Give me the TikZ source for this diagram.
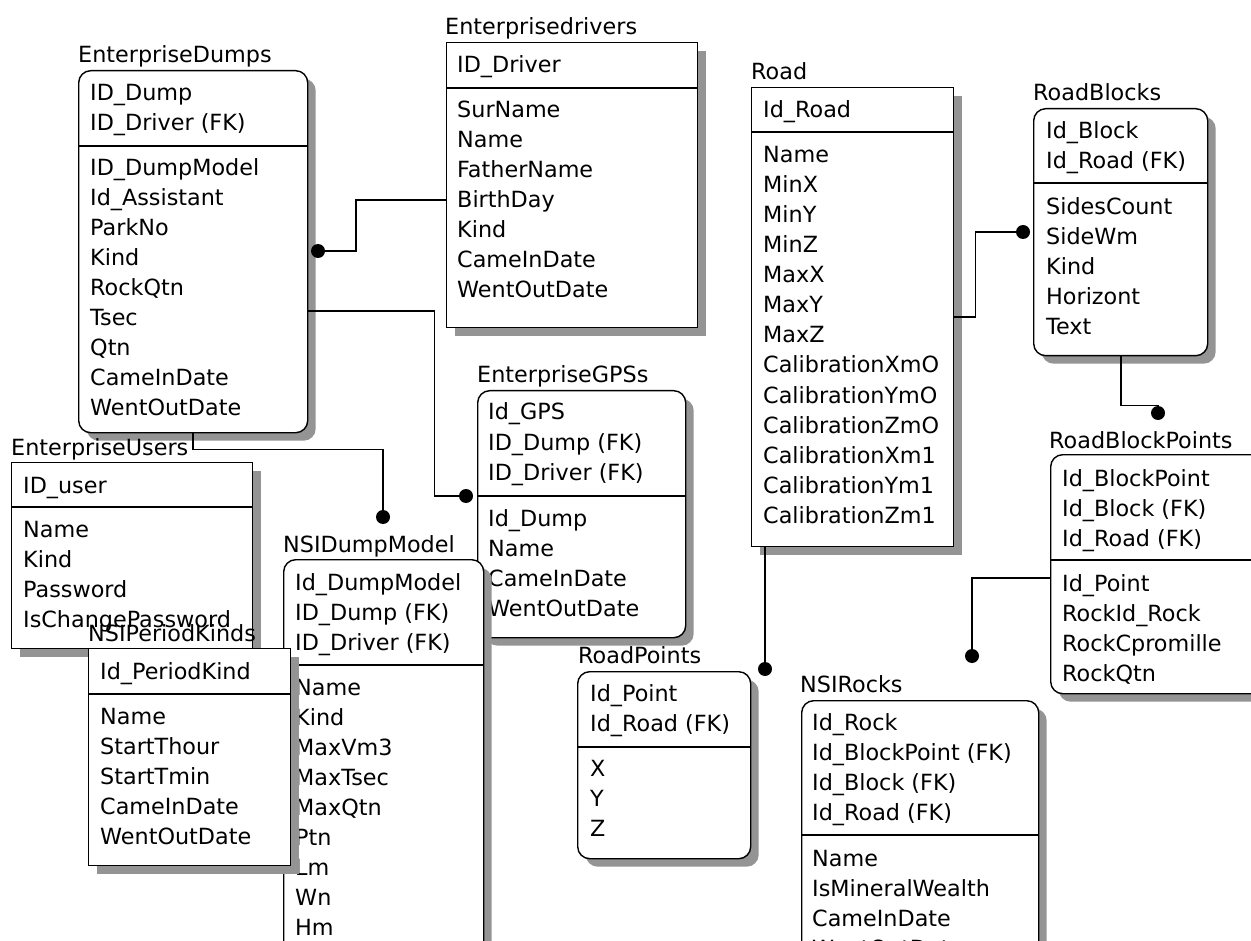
\documentclass[tikz,border=0pt]{standalone}
\usepackage{fontspec}
\setmainfont{DejaVu Sans}
\usetikzlibrary{shadows}
\newcommand\ermrows[4]{\foreach \t [count=\i] in {#4} {\node[rowtxt] (#1-\i) at (#2,{#3+30*(\i-1)}) {\t};}}
\tikzset{
  rowtxt/.style={anchor=base west,inner sep=0pt,font=\fontsize{22.3}{26}\selectfont,text=black},
  ttl/.style={rowtxt},
  tbox/.style={draw=black,line width=1.4pt,fill=white,anchor=north west,inner sep=0pt,
    drop shadow={shadow xshift=8pt,shadow yshift=-8pt,fill=black!42,opacity=1}},
  rbox/.style={tbox,rounded corners=12pt},
  sepl/.style={draw=black,line width=1.4pt},
  conn/.style={draw=black,line width=1.4pt},
  dot/.style={fill=black}
}
\begin{document}
\begin{tikzpicture}[x=1pt,y=-1pt]
\useasboundingbox (0,0) rectangle (1251,941);
\clip (0,0) rectangle (1251,941);
\fill[white] (0,0) rectangle (1251,941);

% EnterpriseDumps
\node[ttl] (ED-t) at (78,63) {EnterpriseDumps};
\node[rbox,minimum width=229pt,minimum height=362pt] (ED) at (78,70) {};
\draw[sepl] (ED.west |- 0,146) -- (ED.east |- 0,146);
\ermrows{EDk}{90}{101}{ID\_Dump,ID\_Driver (FK)}
\ermrows{EDa}{90}{176}{ID\_DumpModel,Id\_Assistant,ParkNo,Kind,RockQtn,Tsec,Qtn,CameInDate,WentOutDate}

% Enterprisedrivers
\node[ttl] (EDr-t) at (445,35) {Enterprisedrivers};
\node[tbox,minimum width=251pt,minimum height=285pt] (EDr) at (446,42) {};
\draw[sepl] (EDr.west |- 0,88) -- (EDr.east |- 0,88);
\ermrows{EDrk}{457}{73}{ID\_Driver}
\ermrows{EDra}{457}{118}{SurName,Name,FatherName,BirthDay,Kind,CameInDate,WentOutDate}

% Road
\node[ttl] (Road-t) at (751,80) {Road};
\node[tbox,minimum width=202pt,minimum height=459pt] (Road) at (751,87) {};
\draw[sepl] (Road.west |- 0,132) -- (Road.east |- 0,132);
\ermrows{Roadk}{763}{118}{Id\_Road}
\ermrows{Roada}{763}{163}{Name,MinX,MinY,MinZ,MaxX,MaxY,MaxZ,CalibrationXmO,CalibrationYmO,CalibrationZmO,CalibrationXm1,CalibrationYm1,CalibrationZm1}

% RoadBlocks
\node[ttl] (RB-t) at (1033,101) {RoadBlocks};
\node[rbox,minimum width=174pt,minimum height=247pt] (RB) at (1033,108) {};
\draw[sepl] (RB.west |- 0,183) -- (RB.east |- 0,183);
\ermrows{RBk}{1046}{139}{Id\_Block,Id\_Road (FK)}
\ermrows{RBa}{1046}{215}{SidesCount,SideWm,Kind,Horizont,Text}

% RoadBlockPoints
\node[ttl] (RBP-t) at (1049,448) {RoadBlockPoints};
\node[rbox,minimum width=230pt,minimum height=239pt] (RBP) at (1050,454) {};
\draw[sepl] (RBP.west |- 0,560) -- (RBP.east |- 0,560);
\ermrows{RBPk}{1062}{486}{Id\_BlockPoint,Id\_Block (FK),Id\_Road (FK)}
\ermrows{RBPa}{1062}{591}{Id\_Point,RockId\_Rock,RockCpromille,RockQtn}

% NSIRocks
\node[ttl] (NR-t) at (800,692) {NSIRocks};
\node[rbox,minimum width=237pt,minimum height=280pt] (NR) at (801,700) {};
\draw[sepl] (NR.west |- 0,835) -- (NR.east |- 0,835);
\ermrows{NRk}{812}{730}{Id\_Rock,Id\_BlockPoint (FK),Id\_Block (FK),Id\_Road (FK)}
\ermrows{NRa}{812}{866}{Name,IsMineralWealth,CameInDate,WentOutDate}

% RoadPoints
\node[ttl] (RP-t) at (578,663) {RoadPoints};
\node[rbox,minimum width=173pt,minimum height=187pt] (RP) at (577,671) {};
\draw[sepl] (RP.west |- 0,747) -- (RP.east |- 0,747);
\ermrows{RPk}{590}{701}{Id\_Point,Id\_Road (FK)}
\ermrows{RPa}{590}{776}{X,Y,Z}

% EnterpriseGPSs
\node[ttl] (EG-t) at (477,383) {EnterpriseGPSs};
\node[rbox,minimum width=208pt,minimum height=247pt] (EG) at (477,390) {};
\draw[sepl] (EG.west |- 0,496) -- (EG.east |- 0,496);
\ermrows{EGk}{488}{420}{Id\_GPS,ID\_Dump (FK),ID\_Driver (FK)}
\ermrows{EGa}{488}{526}{Id\_Dump,Name,CameInDate,WentOutDate}

% NSIDumpModel
\node[ttl] (NDM-t) at (283,552) {NSIDumpModel};
\node[rbox,minimum width=200pt,minimum height=400pt] (NDM) at (283,559) {};
\draw[sepl] (NDM.west |- 0,665) -- (NDM.east |- 0,665);
\ermrows{NDMk}{295}{590}{Id\_DumpModel,ID\_Dump (FK),ID\_Driver (FK)}
\ermrows{NDMa}{295}{695}{Name,Kind,MaxVm3,MaxTsec,MaxQtn,Ptn,Lm,Wn,Hm}

% EnterpriseUsers
\node[ttl] (EU-t) at (11,455) {EnterpriseUsers};
\node[tbox,minimum width=241pt,minimum height=186pt] (EU) at (11,462) {};
\draw[sepl] (EU.west |- 0,507) -- (EU.east |- 0,507);
\ermrows{EUk}{23}{493}{ID\_user}
\ermrows{EUa}{23}{537}{Name,Kind,Password,IsChangePassword}

% NSIPeriodKinds
\node[ttl] (NPK-t) at (88,641) {NSIPeriodKinds};
\node[tbox,minimum width=202pt,minimum height=217pt] (NPK) at (88,648) {};
\draw[sepl] (NPK.west |- 0,694) -- (NPK.east |- 0,694);
\ermrows{NPKk}{100}{679}{Id\_PeriodKind}
\ermrows{NPKa}{100}{724}{Name,StartThour,StartTmin,CameInDate,WentOutDate}

% connector end dots
\coordinate (d1) at (318,251);
\coordinate (d2) at (466,496);
\coordinate (d3) at (383,517);
\coordinate (d4) at (1023,232);
\coordinate (d5) at (1158,413);
\coordinate (d6) at (972,656);
\coordinate (d7) at (765,669);

% connectors
\draw[conn] (EDr.west |- 0,200) -- ++(-90,0) |- (d1);
\draw[conn] (ED.east |- 0,311) -- ++(126,0) |- (d2);
\draw[conn] (ED.south -| 193,0) -- ++(0,16) -| (d3);
\draw[conn] (Road.east |- 0,317) -- ++(21,0) |- (d4);
\draw[conn] (RB.south -| 1121,0) -- ++(0,49) -| (d5);
\draw[conn] (RBP.west |- 0,578) -| (d6);
\draw[conn] (Road.south -| 765,0) -- (d7);
\foreach \d in {d1,d2,d3,d4,d5,d6,d7} {\fill[dot] (\d) circle (7pt);}
\end{tikzpicture}
\end{document}
